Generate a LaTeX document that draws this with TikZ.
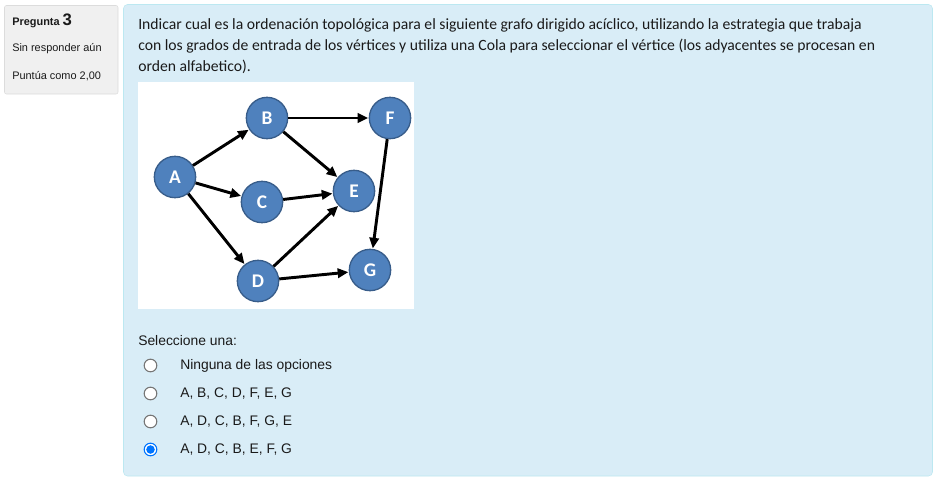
\documentclass[tikz,border=0pt]{standalone}
\usepackage{fontspec}
\setmainfont{Liberation Sans}
\newfontfamily\calib{Carlito}
\usetikzlibrary{arrows.meta}
\definecolor{boxfill}{HTML}{D9EDF7}
\definecolor{boxline}{HTML}{BCE8F1}
\definecolor{leftfill}{HTML}{F0F0F0}
\definecolor{leftline}{HTML}{DCDCDC}
\definecolor{nodefill}{HTML}{4F81BD}
\definecolor{nodeline}{HTML}{385D8A}
\definecolor{txt}{HTML}{1A1A1A}
\definecolor{radioline}{HTML}{767676}
\definecolor{radioblue}{HTML}{0075FF}
\tikzset{
  vert/.style={circle, fill=nodefill, draw=nodeline, line width=1pt, minimum size=31pt, inner sep=0pt, text=white, font=\calib\bfseries\fontsize{14.5}{15}\selectfont},
  edge/.style={line width=2.2pt, -{Triangle[length=8pt,width=7pt]}, shorten >=0.3pt},
  qtext/.style={anchor=base west, inner sep=0pt, text=txt, font=\calib\fontsize{11.75}{13}\selectfont},
  small/.style={anchor=base west, inner sep=0pt, text=txt, font=\fontsize{8.2}{10}\selectfont},
  opt/.style={anchor=base west, inner sep=0pt, text=txt, font=\fontsize{10.4}{12}\selectfont},
  radio/.style={circle, draw=radioline, fill=white, line width=0.8pt, minimum size=9.5pt, inner sep=0pt},
  radiosel/.style={circle, draw=radioblue, fill=white, line width=0.8pt, minimum size=9.5pt, inner sep=0pt}
}
\begin{document}
\begin{tikzpicture}[x=0.75pt,y=-0.75pt]
\useasboundingbox (0,0) rectangle (936,487);
\fill[white] (0,0) rectangle (936,487);
% left info box
\draw[fill=leftfill, draw=leftline, rounded corners=1.5pt] (4.5,5.5) rectangle (118,94);
\node[small] (preg) at (12,25) {\bfseries Pregunta \fontsize{12.5}{13}\selectfont 3};
\node[small] (sin) at (12,51) {Sin responder aún};
\node[small] (punt) at (12,79) {Puntúa como 2,00};
% main box
\draw[fill=boxfill, draw=boxline, rounded corners=3pt] (123.5,4.5) rectangle (932.5,476);
\node[qtext] (l1) at (138,29) {Indicar cual es la ordenación topológica para el siguiente grafo dirigido acíclico, utilizando la estrategia que trabaja};
\node[qtext] (l2) at (138,50) {con los grados de entrada de los vértices y utiliza una Cola para seleccionar el vértice (los adyacentes se procesan en};
\node[qtext] (l3) at (138,71) {orden alfabetico).};
% graph image
\fill[white] (138,82) rectangle (414,309);
\node[vert] (A) at (175,177) {A};
\node[vert] (B) at (267,118) {B};
\node[vert] (C) at (262,202) {C};
\node[vert] (D) at (258,281) {D};
\node[vert] (E) at (354,191) {E};
\node[vert] (F) at (390,118) {F};
\node[vert] (G) at (370,270) {G};
\draw[edge] (A) -- (B);
\draw[edge] (A) -- (C);
\draw[edge] (A) -- (D);
\draw[edge] (B) -- (F);
\draw[edge] (B) -- (E);
\draw[edge] (C) -- (E);
\draw[edge] (D) -- (E);
\draw[edge] (D) -- (G);
\draw[edge] (F) -- (G);
% options
\node[opt] (sel) at (138,345) {Seleccione una:};
\node[radio] (r1) at (150.5,365.5) {};
\node[radio] (r2) at (150.5,393.5) {};
\node[radio] (r3) at (150.5,421.5) {};
\node[radiosel] (r4) at (150.5,449.5) {};
\fill[radioblue] (r4.center) circle (3.2pt);
\node[opt] (o1) at (180,369.5) {Ninguna de las opciones};
\node[opt] (o2) at (180,397.5) {A, B, C, D, F, E, G};
\node[opt] (o3) at (180,425.5) {A, D, C, B, F, G, E};
\node[opt] (o4) at (180,453.5) {A, D, C, B, E, F, G};
\end{tikzpicture}
\end{document}
